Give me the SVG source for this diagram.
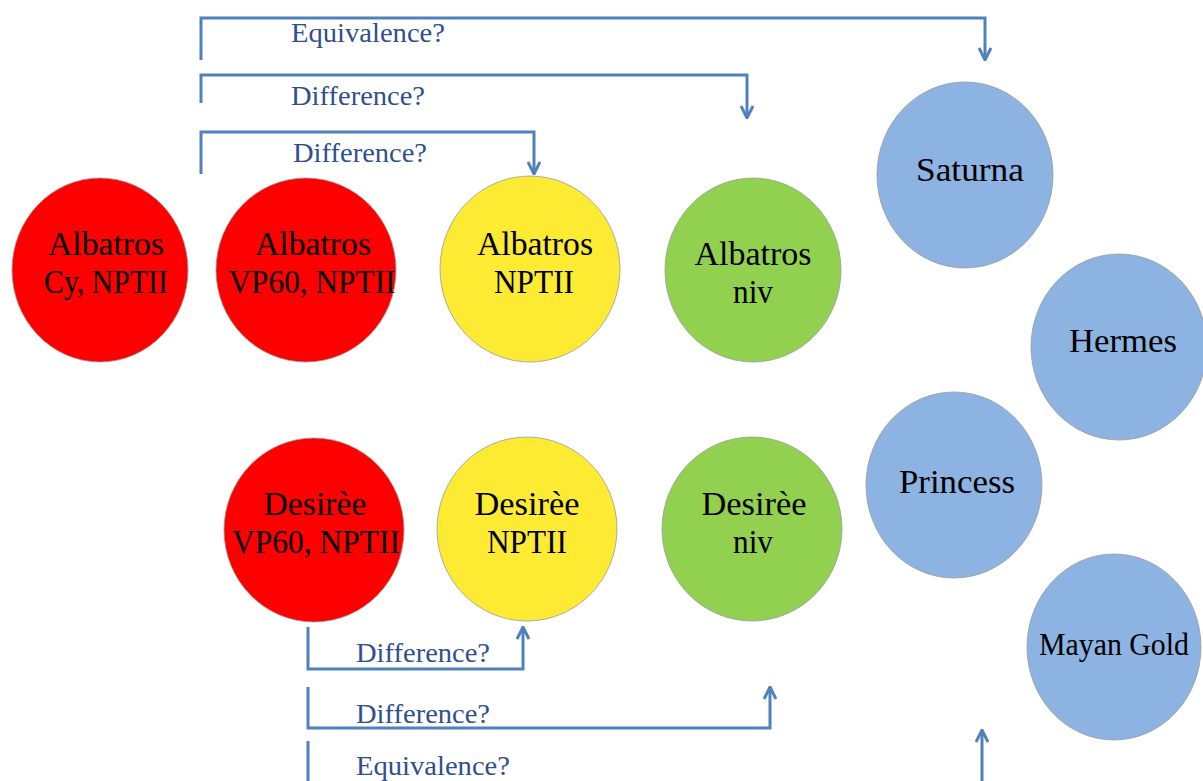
<svg xmlns="http://www.w3.org/2000/svg" width="1203" height="781" viewBox="0 0 1203 781">
<style>
.n{stroke:#9a9a9a;stroke-width:0.8}
.red{fill:#FF0000}.yel{fill:#FCEB32}.grn{fill:#92D050}.blu{fill:#8DB3E2}
.t{font-family:"Liberation Serif","DejaVu Serif",serif;font-size:33px;fill:#000;text-anchor:middle}
.c{fill:none;stroke:#4F81BD;stroke-width:3}
.l{font-family:"Liberation Serif","DejaVu Serif",serif;font-size:27px;fill:#2F4F8F}
</style>
<defs>
<marker id="ah" viewBox="0 0 14 14" refX="13" refY="7" markerWidth="14" markerHeight="14" markerUnits="userSpaceOnUse" orient="auto">
<polyline points="1,1 13,7 1,13" fill="none" stroke="#4F81BD" stroke-width="3"/>
</marker>
</defs>
<rect width="1203" height="781" fill="#fff"/>
<g id="connectors">
<path class="c" d="M201,60 V18 H985 V60" marker-end="url(#ah)"/>
<path class="c" d="M201,103 V75 H747 V118" marker-end="url(#ah)"/>
<path class="c" d="M201,174 V132 H534 V174" marker-end="url(#ah)"/>
<path class="c" d="M308,627 V669 H523 V627" marker-end="url(#ah)"/>
<path class="c" d="M308,687 V728 H770 V687" marker-end="url(#ah)"/>
<path class="c" d="M308,741 V781"/>
<path class="c" d="M982,781 V730" marker-end="url(#ah)"/>
<text class="l" x="291" y="42" textLength="154" lengthAdjust="spacingAndGlyphs">Equivalence?</text>
<text class="l" x="291" y="105" textLength="134" lengthAdjust="spacingAndGlyphs">Difference?</text>
<text class="l" x="293" y="162" textLength="134" lengthAdjust="spacingAndGlyphs">Difference?</text>
<text class="l" x="356" y="662" textLength="134" lengthAdjust="spacingAndGlyphs">Difference?</text>
<text class="l" x="356" y="723" textLength="134" lengthAdjust="spacingAndGlyphs">Difference?</text>
<text class="l" x="356" y="775" textLength="154" lengthAdjust="spacingAndGlyphs">Equivalence?</text>
</g>
<g id="albatros-cy"><ellipse class="n red" cx="100" cy="270" rx="88" ry="92"/>
<text class="t" x="106" y="255" textLength="116" lengthAdjust="spacingAndGlyphs">Albatros</text>
<text class="t" x="106" y="293" textLength="124" lengthAdjust="spacingAndGlyphs">Cy, NPTII</text></g>
<g id="albatros-vp60"><ellipse class="n red" cx="306" cy="270" rx="90" ry="92"/>
<text class="t" x="313" y="255" textLength="116" lengthAdjust="spacingAndGlyphs">Albatros</text>
<text class="t" x="312" y="293" textLength="167" lengthAdjust="spacingAndGlyphs">VP60, NPTII</text></g>
<g id="albatros-nptii"><ellipse class="n yel" cx="530" cy="269" rx="90" ry="93"/>
<text class="t" x="535" y="255" textLength="116" lengthAdjust="spacingAndGlyphs">Albatros</text>
<text class="t" x="534" y="293" textLength="80" lengthAdjust="spacingAndGlyphs">NPTII</text></g>
<g id="albatros-niv"><ellipse class="n grn" cx="753" cy="270" rx="88" ry="92"/>
<text class="t" x="753" y="265" textLength="117" lengthAdjust="spacingAndGlyphs">Albatros</text>
<text class="t" x="753" y="303" textLength="40" lengthAdjust="spacingAndGlyphs">niv</text></g>
<g id="desiree-vp60"><ellipse class="n red" cx="314" cy="530" rx="90" ry="92"/>
<text class="t" x="315" y="515" textLength="103" lengthAdjust="spacingAndGlyphs">Desirèe</text>
<text class="t" x="316" y="553" textLength="168" lengthAdjust="spacingAndGlyphs">VP60, NPTII</text></g>
<g id="desiree-nptii"><ellipse class="n yel" cx="527" cy="529" rx="90" ry="92"/>
<text class="t" x="527" y="515" textLength="105" lengthAdjust="spacingAndGlyphs">Desirèe</text>
<text class="t" x="527" y="553" textLength="80" lengthAdjust="spacingAndGlyphs">NPTII</text></g>
<g id="desiree-niv"><ellipse class="n grn" cx="752" cy="529" rx="90" ry="92"/>
<text class="t" x="754" y="515" textLength="105" lengthAdjust="spacingAndGlyphs">Desirèe</text>
<text class="t" x="753" y="553" textLength="40" lengthAdjust="spacingAndGlyphs">niv</text></g>
<g id="saturna"><ellipse class="n blu" cx="965" cy="175" rx="88" ry="93"/>
<text class="t" x="970" y="181" textLength="108" lengthAdjust="spacingAndGlyphs">Saturna</text></g>
<g id="hermes"><ellipse class="n blu" cx="1119" cy="347" rx="88" ry="93"/>
<text class="t" x="1123" y="352" textLength="108" lengthAdjust="spacingAndGlyphs">Hermes</text></g>
<g id="princess"><ellipse class="n blu" cx="954" cy="485" rx="88" ry="93"/>
<text class="t" x="957" y="493" textLength="116" lengthAdjust="spacingAndGlyphs">Princess</text></g>
<g id="mayan-gold"><ellipse class="n blu" cx="1114" cy="647" rx="87" ry="93"/>
<text class="t" x="1114" y="655" style="font-size:31px" textLength="150" lengthAdjust="spacingAndGlyphs">Mayan Gold</text></g>
</svg>
